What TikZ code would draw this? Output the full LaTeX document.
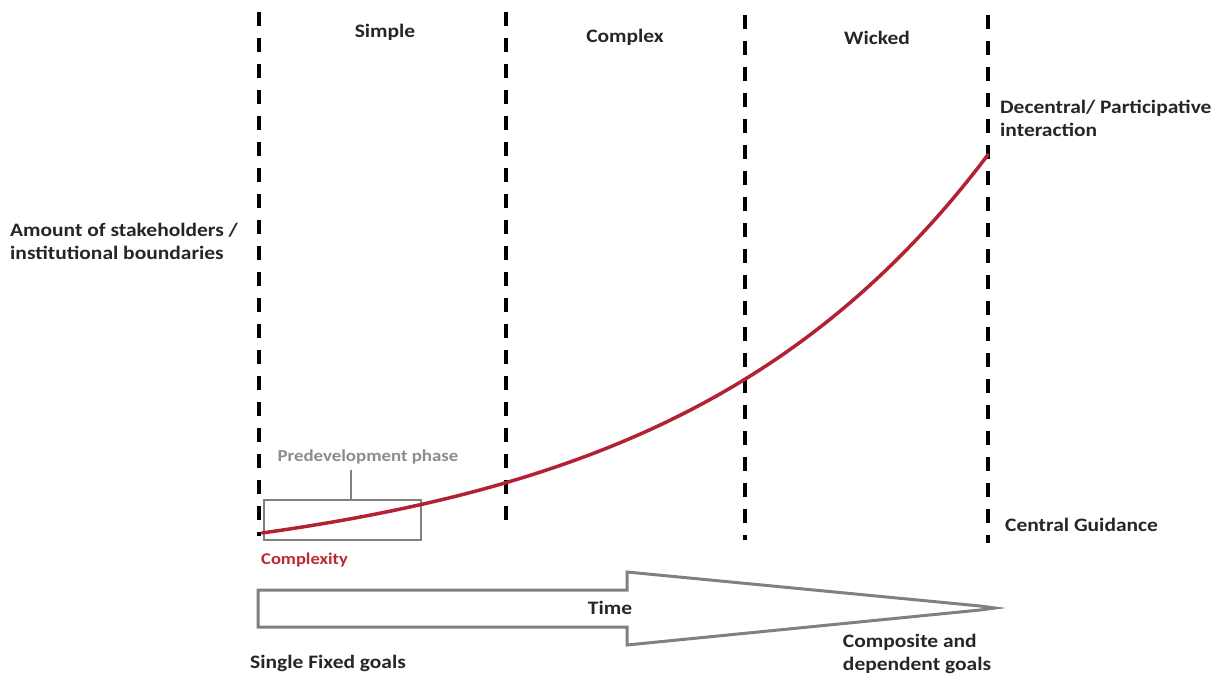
\documentclass[tikz,border=0pt]{standalone}
\usepackage{fontspec}
\setmainfont{Carlito}[FakeStretch=1.13]
\definecolor{curvered}{RGB}{178,34,52}
\definecolor{txtred}{RGB}{190,40,50}
\definecolor{boxgray}{RGB}{128,128,128}
\definecolor{txtgray}{RGB}{140,140,140}
\begin{document}
\begin{tikzpicture}[x=1pt,y=-1pt,
  lbl/.style={font=\fontsize{19}{23}\selectfont\bfseries, text=black!85, inner sep=0pt},
  phase/.style={line width=4pt, dash pattern=on 14pt off 12pt},
  arrowshape/.style={draw=boxgray, line width=3pt, line join=miter},
]
\useasboundingbox (0,0) rectangle (1217,677);
% dashed phase separators
\coordinate (d1t) at (259,12); \coordinate (d1b) at (259,536);
\coordinate (d2t) at (506,12); \coordinate (d2b) at (506,531);
\coordinate (d3t) at (745,15); \coordinate (d3b) at (745,540);
\coordinate (d4t) at (988,15); \coordinate (d4b) at (988,543);
\draw[phase] (d1t) -- (d1b);
\draw[phase] (d2t) -- (d2b);
\draw[phase] (d3t) -- (d3b);
\draw[phase] (d4t) -- (d4b);
% phase labels
\node[lbl] (simple) at (385,32) {Simple};
\node[lbl] (complex) at (625,37) {Complex};
\node[lbl] (wicked) at (877,38) {Wicked};
% side labels
\node[lbl, anchor=west, align=left] (decentral) at (1000,118) {Decentral/ Participative\\interaction};
\node[lbl, anchor=west, align=left] (amount) at (10,241) {Amount of stakeholders /\\institutional boundaries};
\node[lbl, anchor=west] (central) at (1005,525) {Central Guidance};
% predevelopment box
\node[draw=boxgray, line width=1.2pt, minimum width=157pt, minimum height=40pt, inner sep=0pt] (prebox) at (342.5,520) {};
\node[font=\fontsize{16.7}{19}\selectfont\bfseries, text=txtgray, inner sep=0pt] (pretext) at (368,457) {Predevelopment phase};
\coordinate (pretick) at (351,470);
\draw[boxgray, line width=1.2pt] (pretick) -- (351,500);
% complexity curve
\draw[curvered, line width=3.5pt, line cap=round]
  plot[domain=0:726, samples=80, smooth] ({262+\x}, {533 - 0.012*\x - 40.0*(exp(0.0032*\x)-1)});
\node[font=\fontsize{16.4}{19}\selectfont\bfseries, text=txtred, anchor=west, inner sep=0pt] (complexity) at (261,560) {Complexity};
% time arrow
\draw[arrowshape] (258,590) -- (627,590) -- (627,572) -- (980,606) -- (995,608) -- (980,610) -- (627,645) -- (627,627) -- (258,627) -- cycle;
\node[lbl] (time) at (610,608) {Time};
\node[lbl, anchor=west] (single) at (250,663) {Single Fixed goals};
\node[lbl, align=left] (composite) at (917,654) {Composite and\\dependent goals};
\end{tikzpicture}
\end{document}
